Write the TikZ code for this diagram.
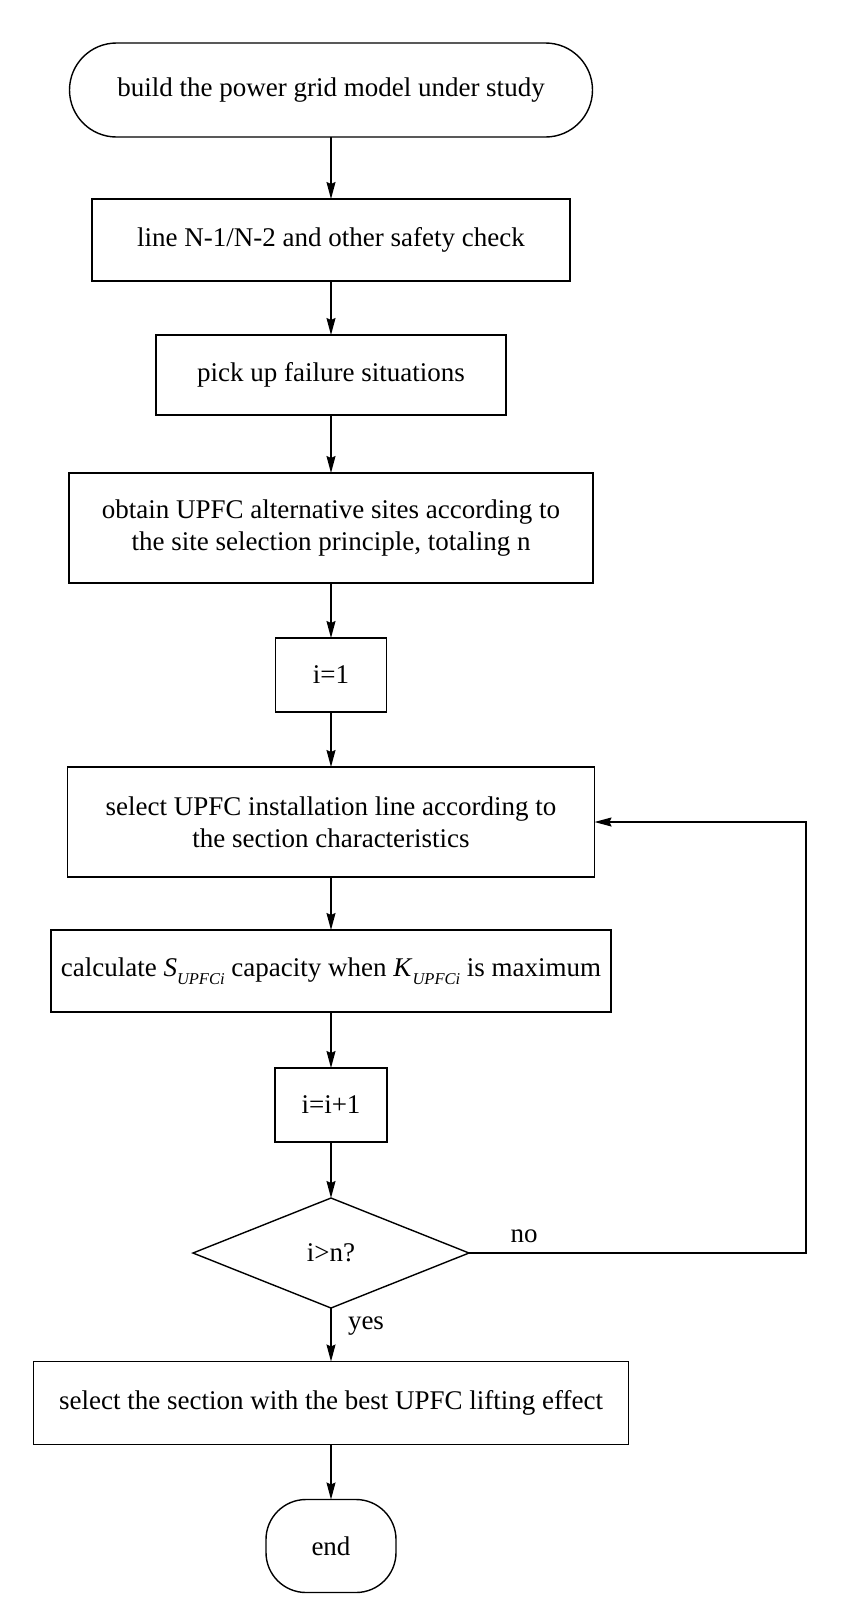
\documentclass[tikz,border=0pt]{standalone}
\usepackage{fontspec}
\setmainfont{Liberation Serif}
\usetikzlibrary{shapes.geometric,arrows.meta}
\newcommand{\subu}[1]{\textit{#1}\raisebox{-0.28em}{\fontsize{16.5}{16.5}\selectfont\itshape UPFCi}}
\begin{document}
\begin{tikzpicture}[x=1pt,y=-1pt,
  every node/.style={font=\fontsize{27}{32}\selectfont, inner sep=0pt, outer sep=0pt},
  procbox/.style={draw, line width=1.4pt, align=center},
  termbox/.style={draw, line width=1.4pt, align=center},
  decbox/.style={draw, diamond, line width=1.4pt, align=center},
  arr/.style={line width=1.4pt, -{Stealth[length=17pt,width=9pt,inset=2pt]}},
  lbl/.style={}
]
\useasboundingbox (0,0) rectangle (863,1610);
\node[termbox, rounded corners=47pt, minimum width=523pt, minimum height=94pt] (start) at (331,90) {build the power grid model under study};
\node[procbox, minimum width=478pt, minimum height=82pt] (b2) at (331,240) {line N-1/N-2 and other safety check};
\node[procbox, minimum width=350pt, minimum height=80pt] (b3) at (331,375) {pick up failure situations};
\node[procbox, minimum width=524pt, minimum height=110pt] (b4) at (331,528) {obtain UPFC alternative sites according to\\the site selection principle, totaling n};
\node[procbox, minimum width=111pt, minimum height=74pt] (b5) at (331,675) {i=1};
\node[procbox, minimum width=527pt, minimum height=110pt] (b6) at (331,822) {select UPFC installation line according to\\the section characteristics};
\node[procbox, minimum width=560pt, minimum height=82pt] (b7) at (331,971) {calculate \subu{S} capacity when \subu{K} is maximum};
\node[procbox, minimum width=112pt, minimum height=74pt] (b8) at (331,1105) {i=i+1};
\node[decbox, minimum width=276pt, minimum height=110pt] (dec) at (331,1253) {i>n?};
\node[procbox, minimum width=595pt, minimum height=83pt] (b9) at (331,1403) {select the section with the best UPFC lifting effect};
\node[termbox, rounded corners=40pt, minimum width=130pt, minimum height=93pt] (end) at (331,1546) {end};
\coordinate (lp) at (806,1253);
\node[lbl] (no) at (524,1236) {no};
\node[lbl] (yes) at (366,1326) {yes};
\draw[arr] (start) -- (b2);
\draw[arr] (b2) -- (b3);
\draw[arr] (b3) -- (b4);
\draw[arr] (b4) -- (b5);
\draw[arr] (b5) -- (b6);
\draw[arr] (b6) -- (b7);
\draw[arr] (b7) -- (b8);
\draw[arr] (b8) -- (dec);
\draw[arr] (dec) -- (b9);
\draw[arr] (b9) -- (end);
\draw[arr] (dec.east) -- (lp) |- (b6.east);
\end{tikzpicture}
\end{document}
